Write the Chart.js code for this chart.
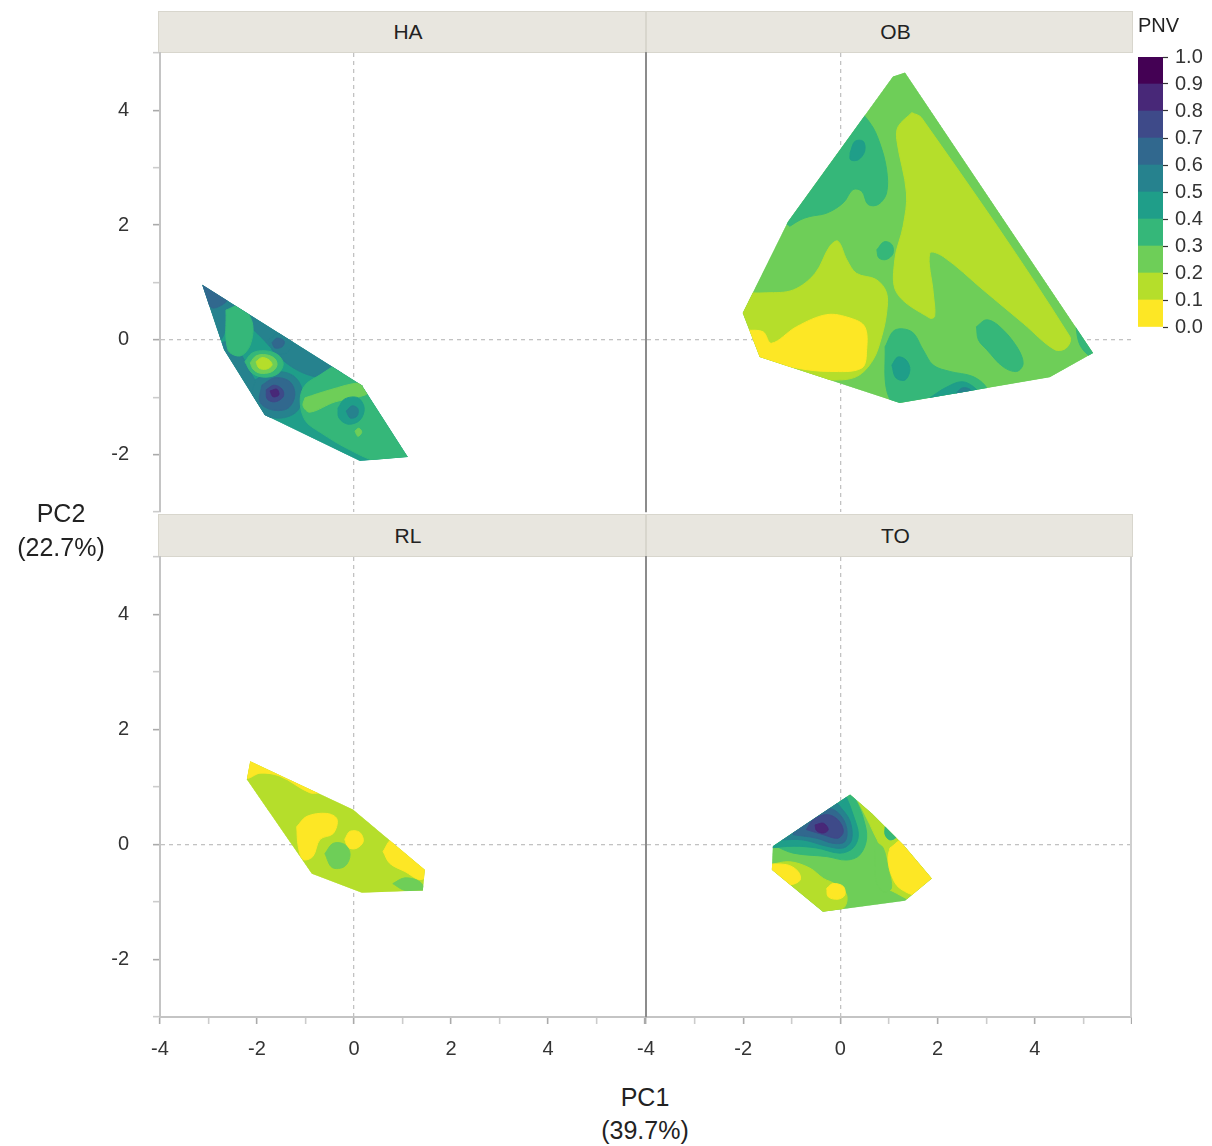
<!DOCTYPE html>
<html>
<head>
<meta charset="utf-8">
<script src="https://cdn.jsdelivr.net/npm/chart.js@4.4.1/dist/chart.umd.min.js"></script>
<style>
  body { margin: 0; background: #fff; font-family: "Liberation Sans", Arial, sans-serif; }
  #wrap { position: relative; width: 1212px; height: 1146px; overflow: hidden; }
  canvas { position: absolute; }
  .strip { position: absolute; box-sizing: border-box; background: #e8e6df; border: 1px solid #d8d6cd;
           color: #222; font-size: 21px; text-align: center; padding-left: 12px; }
  .title { position: absolute; color: #222; font-size: 25px; text-align: center; }
</style>
</head>
<body>
<div id="wrap">
  <div class="strip" id="s0" style="left:158px;top:11px;width:488px;height:42px;line-height:40px"></div>
  <div class="strip" id="s1" style="left:646px;top:11px;width:487px;height:42px;line-height:40px"></div>
  <div class="strip" id="s2" style="left:158px;top:514px;width:488px;height:43px;line-height:41px"></div>
  <div class="strip" id="s3" style="left:646px;top:514px;width:487px;height:43px;line-height:41px"></div>

  <canvas id="cHA" width="645" height="487" style="left:0;top:39px"></canvas>
  <canvas id="cOB" width="506" height="487" style="left:626px;top:39px"></canvas>
  <canvas id="cRL" width="645" height="534" style="left:0;top:543px"></canvas>
  <canvas id="cTO" width="506" height="534" style="left:626px;top:543px"></canvas>
  <canvas id="cLeg" width="82" height="304" style="left:1130px;top:40px"></canvas>

  <div class="title" style="left:1138px;top:14px;font-size:20px;text-align:left">PNV</div>
  <div class="title" style="left:0;top:496px;width:122px;line-height:34px">PC2<br>(22.7%)</div>
  <div class="title" style="left:545px;top:1081px;width:200px;line-height:33px">PC1<br>(39.7%)</div>
</div>

<script>
const FONT = "'Liberation Sans', Arial, Helvetica, sans-serif";

const panelNames = ['HA', 'OB', 'RL', 'TO'];
const pnvBreaks = [0, 0.1, 0.2, 0.3, 0.4, 0.5, 0.6, 0.7, 0.8, 0.9, 1.0];
const pnvColors = ['#FDE725', '#B5DE2B', '#6ECE58', '#35B779', '#1F9E89',
                   '#26828E', '#31688E', '#3E4A89', '#482878', '#440154'];

// each band: [level index, outline in PC1/PC2 units]
const haBase = 4;
const haHull = [[-3.13, 0.96], [0.16, -0.79], [1.11, -2.04], [0.12, -2.11], [-1.84, -1.31], [-2.68, -0.17]];
const haBands = [
  [5, [[-3.28, 1.05], [-1.01, -0.09], [-0.19, -0.52], [-0.66, -0.66], [-1.32, -0.45], [-1.98, 0.10], [-2.52, 0.49], [-2.72, 0.03], [-2.97, -0.09]]],
  [5, [[-2.91, -0.09], [-2.52, -0.05], [-2.04, -0.70], [-1.63, -1.22], [-1.90, -1.43], [-2.93, -0.35]]],
  [6, [[-3.22, 1.01], [-2.60, 0.73], [-2.93, 0.56]]],
  [3, [[-2.64, 0.52], [-2.35, 0.59], [-2.10, 0.31], [-2.14, -0.09], [-2.35, -0.28], [-2.60, -0.17]]],
  [5, [[-2.04, -0.70], [-1.73, -0.56], [-1.28, -0.61], [-1.07, -0.87], [-1.15, -1.22], [-1.48, -1.36], [-1.90, -1.29], [-2.10, -1.01]]],
  [5, [[-1.77, 0.0], [-1.53, 0.12], [-1.28, 0.0], [-1.36, -0.21], [-1.63, -0.23]]],
  [6, [[-1.69, -0.05], [-1.59, 0.03], [-1.44, -0.02], [-1.48, -0.12], [-1.63, -0.14]]],
  [6, [[-1.90, -0.79], [-1.63, -0.66], [-1.32, -0.73], [-1.22, -0.96], [-1.36, -1.19], [-1.69, -1.22], [-1.94, -1.08]]],
  [7, [[-1.81, -0.87], [-1.65, -0.79], [-1.48, -0.86], [-1.46, -0.99], [-1.63, -1.08], [-1.79, -1.03]]],
  [8, [[-1.73, -0.89], [-1.59, -0.86], [-1.55, -0.96], [-1.67, -0.99]]],
  [3, [[-2.25, -0.38], [-2.10, -0.23], [-1.84, -0.19], [-1.57, -0.26], [-1.46, -0.42], [-1.57, -0.59], [-1.84, -0.65], [-2.10, -0.58]]],
  [2, [[-2.14, -0.40], [-2.02, -0.28], [-1.81, -0.26], [-1.63, -0.33], [-1.59, -0.45], [-1.71, -0.56], [-1.94, -0.58], [-2.08, -0.51]]],
  [1, [[-2.02, -0.38], [-1.90, -0.31], [-1.75, -0.35], [-1.69, -0.44], [-1.81, -0.51], [-1.96, -0.49]]],
  [3, [[-0.39, -0.44], [0.23, -0.75], [1.26, -2.09], [0.54, -2.13], [-0.08, -1.92], [-0.70, -1.61], [-1.01, -1.40], [-1.11, -1.05], [-1.01, -0.79], [-0.70, -0.61]]],
  [2, [[-1.01, -1.01], [-0.49, -0.87], [0.12, -0.75], [0.37, -0.84], [0.23, -0.96], [-0.39, -1.08], [-0.91, -1.26], [-1.05, -1.15]]],
  [4, [[-0.33, -1.19], [-0.19, -1.03], [0.08, -1.01], [0.21, -1.19], [0.12, -1.40], [-0.12, -1.47], [-0.31, -1.36]]],
  [5, [[-0.16, -1.24], [-0.04, -1.15], [0.08, -1.20], [0.06, -1.33], [-0.08, -1.36]]],
  [2, [[0.02, -1.59], [0.10, -1.54], [0.16, -1.61], [0.08, -1.68]]]
];

const obBase = 2;
const obHull = [[1.08, 4.59], [1.33, 4.66], [5.20, -0.23], [4.31, -0.65], [1.22, -1.10], [-1.66, -0.30], [-2.01, 0.47], [-1.08, 2.06]];
const obBands = [
  [1, [[1.47, 3.96], [1.67, 3.87], [4.72, 0.06], [4.65, -0.14], [4.41, -0.17], [3.76, 0.29], [2.94, 0.87], [2.12, 1.45], [1.84, 1.51], [1.91, 0.82], [1.94, 0.41], [1.84, 0.38], [1.16, 0.82], [1.12, 1.40], [1.29, 1.98], [1.36, 2.56], [1.16, 3.49], [1.19, 3.72]]],
  [1, [[-2.07, 0.82], [-1.52, 0.82], [-0.97, 0.87], [-0.52, 1.16], [-0.22, 1.63], [-0.05, 1.72], [0.13, 1.40], [0.33, 1.16], [0.74, 1.05], [0.95, 0.82], [0.95, 0.47], [0.85, 0.06], [0.67, -0.35], [0.33, -0.64], [-0.22, -0.70], [-0.90, -0.64], [-1.66, -0.41], [-2.07, -0.35]]],
  [0, [[-1.92, 0.17], [-1.59, 0.14], [-1.42, -0.06], [-0.90, 0.23], [-0.28, 0.44], [0.20, 0.38], [0.50, 0.23], [0.54, -0.17], [0.44, -0.49], [-0.22, -0.55], [-0.90, -0.49], [-1.66, -0.32], [-1.95, 0.0]]],
  [3, [[-1.04, 1.98], [-1.24, 2.15], [0.33, 3.96], [0.61, 3.78], [0.81, 3.43], [0.95, 2.97], [0.95, 2.56], [0.78, 2.36], [0.57, 2.36], [0.44, 2.59], [0.26, 2.62], [0.06, 2.39], [-0.28, 2.21], [-0.63, 2.15], [-0.83, 2.09]]],
  [4, [[0.20, 3.26], [0.30, 3.46], [0.47, 3.46], [0.50, 3.29], [0.37, 3.14], [0.21, 3.14]]],
  [3, [[0.75, 1.57], [0.90, 1.71], [1.06, 1.66], [1.08, 1.50], [0.94, 1.40], [0.79, 1.43]]],
  [3, [[0.92, -0.12], [1.12, 0.17], [1.47, 0.14], [1.70, -0.17], [1.91, -0.44], [2.25, -0.55], [2.73, -0.64], [3.01, -0.84], [2.94, -0.99], [1.84, -1.16], [1.19, -1.19], [0.95, -0.87]]],
  [4, [[1.06, -0.44], [1.18, -0.30], [1.35, -0.35], [1.43, -0.52], [1.33, -0.70], [1.14, -0.66]]],
  [4, [[1.84, -1.01], [2.15, -0.84], [2.50, -0.73], [2.77, -0.84], [2.87, -1.01], [2.46, -1.12]]],
  [5, [[2.36, -0.96], [2.50, -0.84], [2.66, -0.86], [2.70, -0.96]]],
  [3, [[2.80, 0.23], [3.01, 0.35], [3.28, 0.23], [3.63, -0.12], [3.76, -0.41], [3.63, -0.55], [3.35, -0.47], [3.01, -0.17], [2.84, 0.0]]],
  [3, [[4.83, 0.35], [5.34, -0.17], [5.20, -0.31], [4.93, -0.09]]]
];

const rlBase = 1;
const rlHull = [[-2.14, 1.45], [-0.02, 0.61], [1.46, -0.44], [1.42, -0.80], [0.16, -0.84], [-0.87, -0.51], [-2.21, 1.13]];
const rlBands = [
  [0, [[-2.28, 1.51], [-0.70, 0.92], [-0.91, 0.90], [-1.53, 1.19], [-1.94, 1.24], [-2.21, 1.16]]],
  [0, [[-1.18, 0.31], [-0.97, 0.49], [-0.56, 0.54], [-0.35, 0.44], [-0.43, 0.19], [-0.70, 0.09], [-0.85, -0.21], [-1.05, -0.26], [-1.15, -0.03]]],
  [0, [[-0.19, 0.09], [-0.08, 0.23], [0.12, 0.21], [0.19, 0.05], [0.04, -0.07], [-0.12, -0.05]]],
  [2, [[-0.60, -0.16], [-0.43, 0.02], [-0.19, 0.0], [-0.08, -0.17], [-0.19, -0.38], [-0.45, -0.40]]],
  [0, [[0.60, -0.12], [0.78, 0.09], [1.05, 0.02], [1.36, -0.30], [1.53, -0.51], [1.36, -0.61], [1.05, -0.47], [0.74, -0.33]]],
  [2, [[0.80, -0.68], [1.05, -0.58], [1.36, -0.65], [1.44, -0.80], [1.05, -0.80]]]
];

const toBase = 2;
const toHull = [[-1.39, -0.03], [0.20, 0.87], [0.65, 0.54], [1.29, 0.0], [1.88, -0.59], [1.33, -0.98], [-0.36, -1.17], [-1.41, -0.44]];
const toBands = [
  [1, [[-1.45, -0.35], [-1.04, -0.30], [-0.63, -0.41], [-0.35, -0.59], [-0.08, -0.70], [0.13, -0.88], [0.06, -1.11], [-0.35, -1.20], [-1.45, -0.82]]],
  [0, [[-1.66, -0.35], [-1.11, -0.35], [-0.87, -0.47], [-0.83, -0.62], [-1.04, -0.70], [-1.38, -0.65], [-1.66, -0.55]]],
  [0, [[-0.28, -0.76], [-0.15, -0.68], [0.06, -0.73], [0.09, -0.88], [-0.05, -0.95], [-0.25, -0.91]]],
  [1, [[0.33, 0.81], [0.61, 0.92], [2.19, -0.65], [1.64, -0.99], [1.09, -0.82], [0.81, -0.65], [0.74, -0.35], [0.81, -0.06], [0.67, 0.23], [0.54, 0.46]]],
  [2, [[0.71, 0.05], [0.88, -0.06], [0.98, -0.41], [1.05, -0.76], [0.88, -0.82], [0.74, -0.65], [0.71, -0.30]]],
  [0, [[1.02, -0.06], [1.33, 0.09], [2.05, -0.59], [1.64, -0.88], [1.22, -0.76], [1.05, -0.53], [0.98, -0.24]]],
  [3, [[0.92, 0.31], [1.09, 0.28], [1.16, 0.14], [1.02, 0.08], [0.92, 0.17]]],
  [3, [[-1.38, -0.01], [-0.97, -0.15], [-0.28, -0.21], [0.13, -0.27], [0.40, -0.18], [0.54, 0.11], [0.47, 0.46], [0.33, 0.75], [0.20, 0.92], [-1.52, 0.05]]],
  [4, [[-1.45, -0.06], [-0.97, -0.03], [-0.49, -0.06], [-0.01, -0.15], [0.26, -0.06], [0.37, 0.17], [0.26, 0.52], [0.13, 0.81], [0.06, 0.90], [-1.52, 0.08]]],
  [5, [[-1.24, 0.08], [-0.77, 0.08], [-0.28, -0.03], [0.06, -0.06], [0.23, 0.08], [0.20, 0.40], [0.02, 0.63], [-0.15, 0.75], [-0.63, 0.58], [-1.29, 0.19]]],
  [6, [[-0.97, 0.17], [-0.49, 0.11], [-0.15, 0.02], [0.09, 0.05], [0.13, 0.28], [-0.01, 0.52], [-0.25, 0.63], [-0.63, 0.52], [-0.97, 0.28]]],
  [7, [[-0.70, 0.26], [-0.35, 0.17], [-0.05, 0.11], [0.06, 0.23], [-0.05, 0.43], [-0.28, 0.52], [-0.56, 0.43]]],
  [8, [[-0.52, 0.34], [-0.35, 0.37], [-0.25, 0.26], [-0.35, 0.20], [-0.49, 0.24]]]
];

panelNames.forEach((n, i) => { document.getElementById('s' + i).textContent = n; });

function zeroLine(c) {
  return c.tick && c.tick.value === 0 ? '#c2c2c2' : 'rgba(0,0,0,0)';
}
function tickShade(c) {
  return c.tick && c.tick.value % 2 === 0 ? '#aaaaaa' : '#cccccc';
}
function noOverhang(s) {
  s.paddingLeft = 0; s.paddingRight = 0; s.paddingTop = 0; s.paddingBottom = 0;
}

function xAxis(showLabels) {
  return {
    type: 'linear', min: -4, max: 6,
    afterFit: s => { s.height = showLabels ? 60 : 0; noOverhang(s); },
    ticks: {
      display: showLabels, stepSize: 1, padding: 13, autoSkip: false, maxRotation: 0,
      color: '#333', font: { family: FONT, size: 20 },
      callback: v => (v % 2 === 0 && v < 6 ? String(v) : '')
    },
    grid: { color: zeroLine, lineWidth: 1.3, drawTicks: showLabels, tickLength: 7, tickWidth: 1.6, tickColor: tickShade },
    border: { display: showLabels, color: '#c4c4c4', width: 2, dash: [4, 4] }
  };
}

function yAxis(showLabels) {
  return {
    type: 'linear', min: -3, max: 5,
    afterFit: s => { s.width = showLabels ? 160 : 20; noOverhang(s); },
    ticks: {
      display: showLabels, stepSize: 1, padding: 24,
      color: '#333', font: { family: FONT, size: 20 },
      callback: v => (v % 2 === 0 ? String(v) : '')
    },
    grid: { color: zeroLine, lineWidth: 1.3, drawTicks: showLabels, tickLength: 7, tickWidth: 1.6, tickColor: tickShade },
    border: { display: true, color: showLabels ? '#c4c4c4' : '#8c8c8c', width: 2, dash: [4, 4] }
  };
}

// keep contour bands inside the sampled hull
function clipToHull(hull) {
  return {
    id: 'clipToHull',
    beforeDatasetsDraw(chart) {
      const { ctx, scales } = chart;
      ctx.save();
      ctx.beginPath();
      hull.forEach((p, i) => {
        const px = scales.x.getPixelForValue(p[0]);
        const py = scales.y.getPixelForValue(p[1]);
        if (i === 0) ctx.moveTo(px, py); else ctx.lineTo(px, py);
      });
      ctx.closePath();
      ctx.clip();
    },
    afterDatasetsDraw(chart) {
      chart.ctx.restore();
    }
  };
}

const rightEdge = {
  id: 'rightEdge',
  afterDraw(chart) {
    const { ctx, chartArea } = chart;
    ctx.save();
    ctx.strokeStyle = '#cfcfcf';
    ctx.lineWidth = 2;
    ctx.beginPath();
    ctx.moveTo(chartArea.right - 1, chartArea.top);
    ctx.lineTo(chartArea.right - 1, chartArea.bottom);
    ctx.stroke();
    ctx.restore();
  }
};

function bandDataset(level, pts, smooth) {
  const col = pnvColors[level];
  return {
    data: pts.concat([pts[0]]).map(p => ({ x: p[0], y: p[1] })),
    showLine: true,
    fill: 'shape',
    backgroundColor: col,
    borderColor: col,
    borderWidth: 1,
    pointRadius: 0,
    pointHoverRadius: 0,
    pointHitRadius: 0,
    tension: smooth ? 0.35 : 0
  };
}

function drawPanel(id, base, hull, bands, bottomRow, leftCol) {
  const sets = [bandDataset(base, hull, false)].concat(bands.map(b => bandDataset(b[0], b[1], true)));
  // paint in list order: hull first, small spots last
  sets.forEach((s, i) => { s.order = -i; });

  const extra = (bottomRow && !leftCol) ? [rightEdge] : [];
  new Chart(document.getElementById(id), {
    type: 'scatter',
    data: { datasets: sets },
    options: {
      responsive: false,
      animation: false,
      events: [],
      layout: { padding: { top: 14, bottom: bottomRow ? 0 : 14, left: 0, right: 0 } },
      plugins: { legend: { display: false }, tooltip: { enabled: false } },
      scales: { x: xAxis(bottomRow), y: yAxis(leftCol) }
    },
    plugins: [clipToHull(hull)].concat(extra)
  });
}

drawPanel('cHA', haBase, haHull, haBands, false, true);
drawPanel('cOB', obBase, obHull, obBands, false, false);
drawPanel('cRL', rlBase, rlHull, rlBands, true, true);
drawPanel('cTO', toBase, toHull, toBands, true, false);

// colour key
new Chart(document.getElementById('cLeg'), {
  type: 'bar',
  data: {
    labels: ['PNV'],
    datasets: pnvColors.map((c, i) => ({
      data: [pnvBreaks[i + 1] - pnvBreaks[i]],
      backgroundColor: c,
      borderWidth: 0,
      barPercentage: 1,
      categoryPercentage: 1
    }))
  },
  options: {
    responsive: false,
    animation: false,
    events: [],
    layout: { padding: { left: 8, top: 17, bottom: 17, right: 0 } },
    plugins: { legend: { display: false }, tooltip: { enabled: false } },
    scales: {
      x: { stacked: true, display: false },
      y: {
        stacked: true, min: 0, max: 1, position: 'right',
        afterFit: s => { s.width = 49; noOverhang(s); },
        ticks: { stepSize: 0.1, padding: 7, color: '#333', font: { family: FONT, size: 20 }, callback: v => v.toFixed(1) },
        grid: { drawOnChartArea: false, tickLength: 5, tickColor: '#333', tickWidth: 1.2 },
        border: { display: false }
      }
    }
  }
});
</script>
</body>
</html>
